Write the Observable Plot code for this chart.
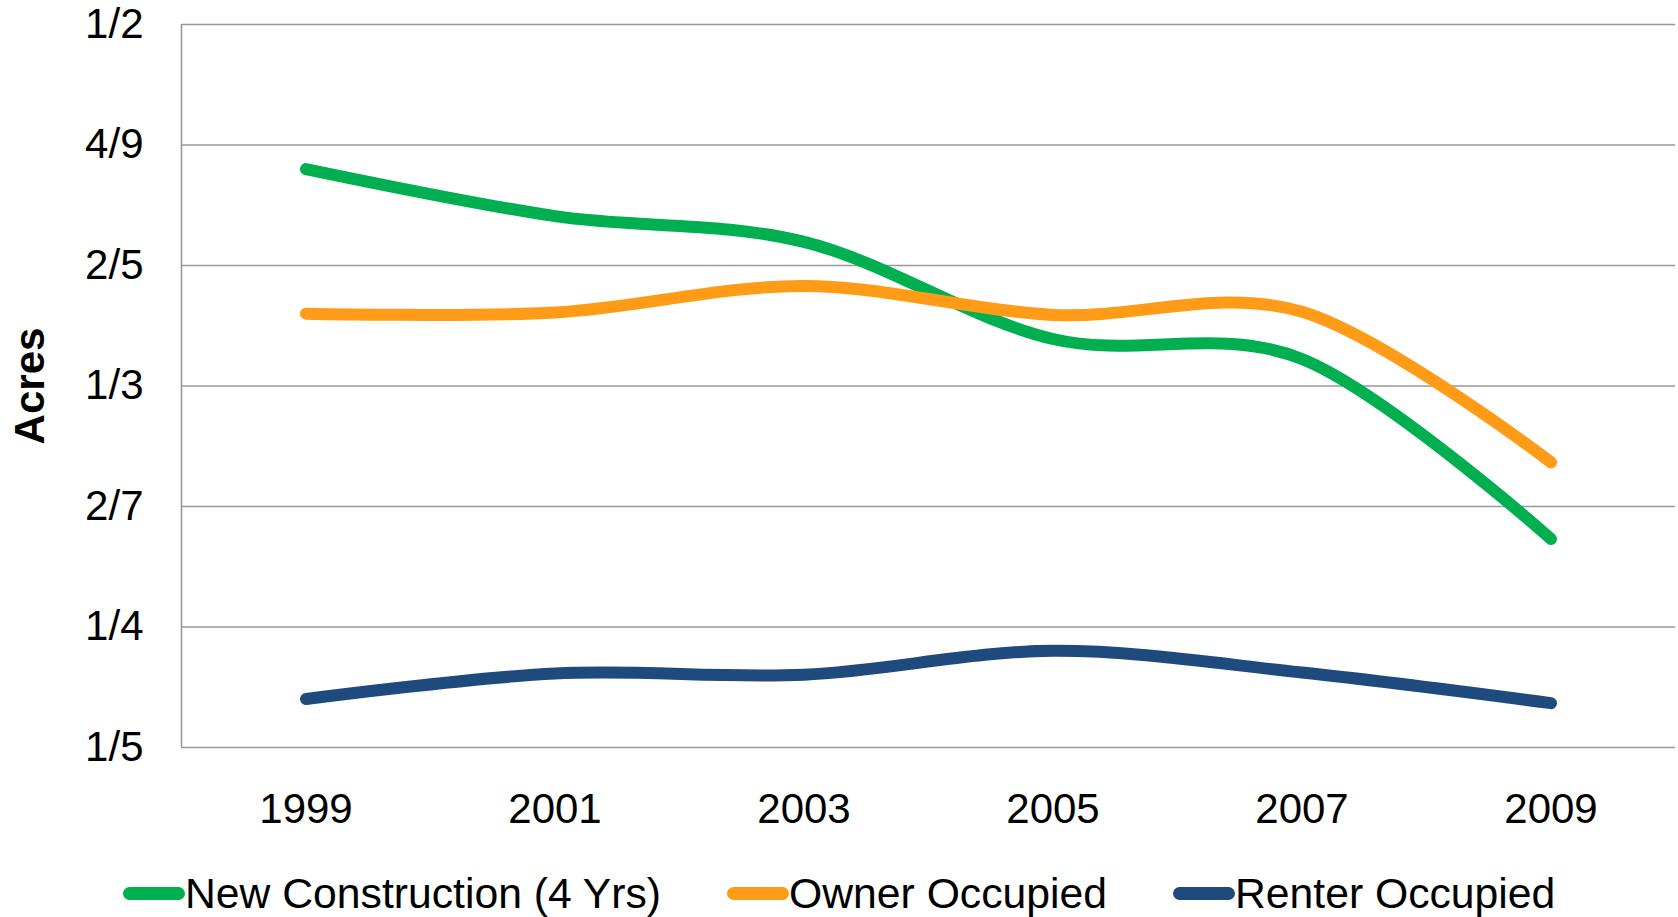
<!DOCTYPE html>
<html>
<head>
<meta charset="utf-8">
<script src="https://cdn.jsdelivr.net/npm/d3@7"></script>
<script src="https://cdn.jsdelivr.net/npm/@observablehq/plot@0.6"></script>
<style>
  html, body { margin: 0; padding: 0; background: white; }
  body { width: 1678px; height: 917px; position: relative; overflow: hidden;
         font-family: "Liberation Sans", Arial, sans-serif; }
  #chart { position: absolute; left: 0; top: 0; }
  #legend { position: absolute; left: 123px; top: 868px; display: flex; align-items: center;
            font-size: 42.7px; line-height: 50px; color: #000; white-space: nowrap; }
  .item { display: flex; align-items: center; margin-right: 66px; }
  .sw { width: 62px; height: 13px; border-radius: 6.5px; display: inline-block; }
</style>
</head>
<body>
<div id="chart"></div>
<div id="legend"></div>
<script>
const years = [1999, 2001, 2003, 2005, 2007, 2009];
const seriesNames = ["New Construction (4 Yrs)", "Owner Occupied", "Renter Occupied"];
const newConstruction = [0.440, 0.4205, 0.4098, 0.3695, 0.3612, 0.2865];
const ownerOccupied   = [0.380, 0.3805, 0.3915, 0.3795, 0.3808, 0.3183];
const renterOccupied  = [0.2201, 0.2307, 0.2302, 0.2401, 0.2311, 0.2184];
const seriesColors = ["#00b050", "#ff9b17", "#1f4a7d"];
const yTicks = [0.2, 0.25, 0.3, 0.35, 0.4, 0.45, 0.5];
const yTickLabels = ["1/5", "1/4", "2/7", "1/3", "2/5", "4/9", "1/2"];
const xTicks = [1999, 2001, 2003, 2005, 2007, 2009];
const yTitle = "Acres";

const valuesBySeries = [newConstruction, ownerOccupied, renterOccupied];
const data = [];
seriesNames.forEach((s, si) => years.forEach((yr, i) => data.push({series: s, year: yr, value: valuesBySeries[si][i]})));

const chart = Plot.plot({
  width: 1678,
  height: 850,
  marginTop: 24,
  marginBottom: 103,
  marginLeft: 181,
  marginRight: 3,
  style: {fontSize: "42px", fontFamily: "'Liberation Sans', Arial, sans-serif", color: "#000", background: "white", overflow: "visible"},
  x: {domain: [1998, 2010]},
  y: {domain: [0.2, 0.5]},
  color: {domain: seriesNames, range: seriesColors},
  marks: [
    Plot.gridY(yTicks, {stroke: "#999", strokeOpacity: 1, strokeWidth: 1.6}),
    Plot.ruleX([1998], {stroke: "#999", strokeWidth: 1.6}),
    Plot.axisY({ticks: yTicks, tickFormat: d => yTickLabels[yTicks.indexOf(d)], tickSize: 0, tickPadding: 38, label: null}),
    Plot.axisX({ticks: xTicks, tickFormat: d => String(d), tickSize: 0, tickPadding: 46, label: null}),
    Plot.line(data, {x: "year", y: "value", z: "series", stroke: "series", strokeWidth: 12, curve: "cardinal", strokeLinecap: "round", strokeLinejoin: "round"}),
    Plot.text([yTitle], {frameAnchor: "left", textAnchor: "middle", lineAnchor: "middle", dx: -151, rotate: -90, fontWeight: "bold", fontSize: 42, text: d => d})
  ]
});
document.getElementById("chart").appendChild(chart);

const legend = document.getElementById("legend");
seriesNames.forEach((s, i) => {
  const item = document.createElement("div");
  item.className = "item";
  const sw = document.createElement("span");
  sw.className = "sw";
  sw.style.background = seriesColors[i];
  const label = document.createElement("span");
  label.textContent = s;
  item.appendChild(sw);
  item.appendChild(label);
  legend.appendChild(item);
});
</script>
</body>
</html>
